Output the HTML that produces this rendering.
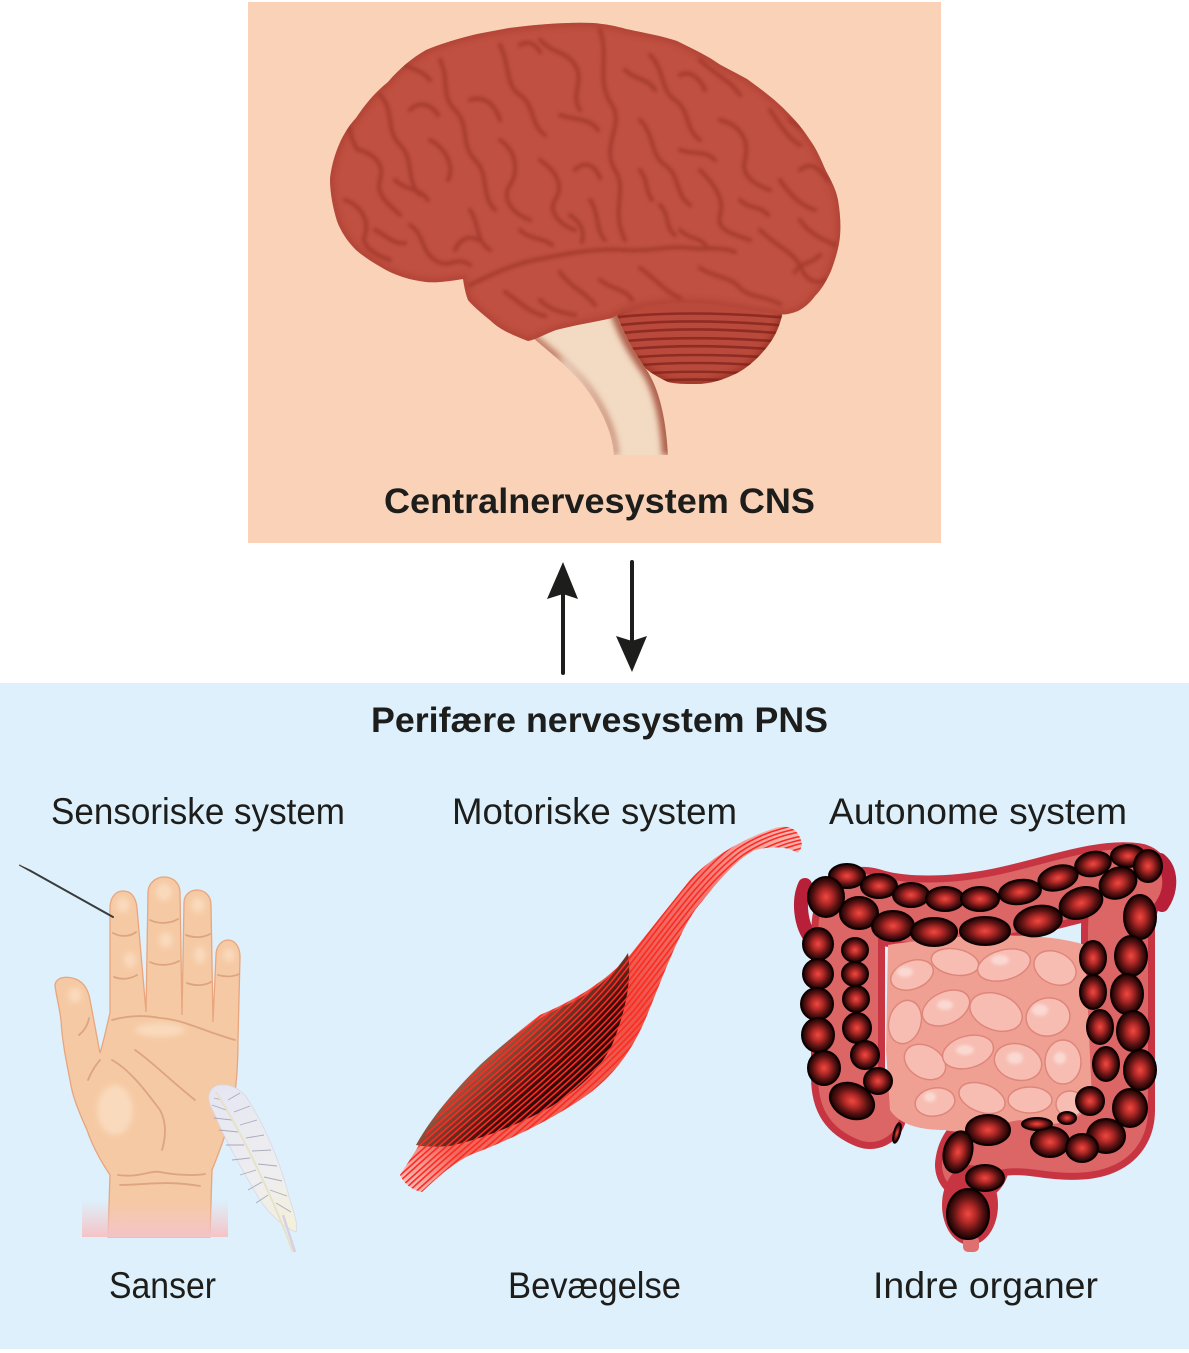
<!DOCTYPE html>
<html><head><meta charset="utf-8"><style>
html,body{margin:0;padding:0;background:#fff;}
svg{display:block;}
text{font-family:"Liberation Sans",Arial,sans-serif;fill:#1d1d1b;}
</style></head><body>
<svg width="1189" height="1353" viewBox="0 0 1189 1353" xmlns="http://www.w3.org/2000/svg">
<defs>
  <filter id="b1" x="-20%" y="-20%" width="140%" height="140%"><feGaussianBlur stdDeviation="1.5"/></filter>
  <filter id="b3" x="-20%" y="-20%" width="140%" height="140%"><feGaussianBlur stdDeviation="3"/></filter>
  <filter id="b5" x="-30%" y="-30%" width="160%" height="160%"><feGaussianBlur stdDeviation="5"/></filter>
  <path id="cerebrum" d="M330,179 C332,160 340,135 356,118 C368,100 378,90 388,82 C400,68 412,58 426,50 C440,44 460,38 477,34 L509,28 C540,24 570,22 593,23 C605,24 616,26 626,29 C645,33 662,36 677,41 C695,50 708,56 719,64 C730,70 740,75 747,79 C765,92 778,102 789,114 C800,125 806,134 812,143 C818,152 822,162 826,171 C832,182 836,190 838,200 C840,212 841,224 840,236 C839,248 835,260 831,271 C826,282 821,290 815,296 C810,303 804,308 798,311 C790,314 785,315 780,314 C760,312 740,308 720,305 C700,302 680,302 660,304 C640,306 625,310 612,318 C595,322 575,325 556,330 C545,334 535,340 528,341 C515,336 500,330 491,321 C480,312 472,305 468,300 C465,292 464,285 463,279 C450,281 438,283 426,282 C410,280 398,276 388,271 C375,264 364,257 356,250 C348,242 341,232 337,221 C333,208 330,193 330,179 Z"/>
  <clipPath id="brainClip"><use href="#cerebrum"/></clipPath>
  <path id="stem" d="M520,326 C545,350 565,362 585,387 C600,407 612,430 614,455 L668,455 C666,420 660,392 648,372 C636,355 625,338 615,310 Z"/>
  <clipPath id="stemClip"><use href="#stem"/></clipPath>
  <path id="cbl" d="M612,321 C620,300 660,292 700,294 C740,296 772,298 784,306 C780,330 772,342 761,354 C750,366 740,372 733,375 C720,381 708,384 696,384 C685,384 676,384 668,382 C660,378 652,374 645,368 C638,362 632,356 626,350 C620,340 615,330 612,321 Z"/>
  <clipPath id="cblClip"><use href="#cbl"/></clipPath>
  <path id="muscle" d="M400,1175 C410,1160 425,1135 445,1105 C470,1075 500,1045 540,1015 C575,1000 605,982 630,955 C650,930 670,905 690,880 C712,856 745,838 775,828 C790,824 800,830 802,845 C800,852 798,853 796,852 C790,848 775,845 755,850 C735,860 715,885 695,910 C675,940 660,985 645,1020 C630,1055 610,1080 580,1100 C550,1120 510,1140 470,1155 C450,1165 435,1180 422,1192 C412,1190 404,1184 400,1175 Z"/>
  <clipPath id="muscleClip"><use href="#muscle"/></clipPath>
  <linearGradient id="musG" gradientUnits="userSpaceOnUse" x1="400" y1="1190" x2="800" y2="830">
    <stop offset="0" stop-color="#f9c9c6"/>
    <stop offset="0.12" stop-color="#ef6a5e"/>
    <stop offset="0.55" stop-color="#ec5448"/>
    <stop offset="0.8" stop-color="#f07a72"/>
    <stop offset="1" stop-color="#f7bcb8"/>
  </linearGradient>
  <linearGradient id="bellyG" gradientUnits="userSpaceOnUse" x1="480" y1="1025" x2="575" y2="1120">
    <stop offset="0" stop-color="#b88466"/>
    <stop offset="0.3" stop-color="#8a4a36"/>
    <stop offset="0.6" stop-color="#3e0c08"/>
    <stop offset="1" stop-color="#1a0202"/>
  </linearGradient>
  <path id="fib" d="M360,1232 C450,1142 560,1062 620,992 C668,932 700,882 740,852 C770,832 800,826 832,826"/>
  <radialGradient id="haus" cx="0.5" cy="0.5" r="0.5">
    <stop offset="0" stop-color="#ee4a40"/>
    <stop offset="0.35" stop-color="#b52a28"/>
    <stop offset="0.7" stop-color="#5a1212"/>
    <stop offset="1" stop-color="#180202"/>
  </radialGradient>
  <linearGradient id="pinkFade" x1="0" y1="0" x2="0" y2="1">
    <stop offset="0" stop-color="#f5c7c9" stop-opacity="0"/>
    <stop offset="1" stop-color="#f4c3c6" stop-opacity="1"/>
  </linearGradient>
  <linearGradient id="featherG" gradientUnits="userSpaceOnUse" x1="215" y1="1090" x2="295" y2="1235">
    <stop offset="0" stop-color="#e6e6f2"/>
    <stop offset="0.6" stop-color="#eeeef0"/>
    <stop offset="1" stop-color="#f4f0d8"/>
  </linearGradient>
</defs>

<!-- backgrounds -->
<rect x="0" y="0" width="1189" height="1353" fill="#ffffff"/>
<rect x="248" y="2" width="693" height="541" fill="#f9d2b7"/>
<rect x="0" y="683" width="1189" height="666" fill="#ddf0fb"/>

<!-- ================= BRAIN ================= -->
<use href="#cbl" fill="#b9493a"/>
<g clip-path="url(#cblClip)" fill="none" stroke="#8e2c24" stroke-width="2.6" stroke-linecap="round">
  <path d="M610,318 C660,312 720,312 790,318"/>
  <path d="M612,326 C660,320 720,320 790,326"/>
  <path d="M614,334 C662,328 722,328 788,334"/>
  <path d="M616,342 C664,337 722,337 786,342"/>
  <path d="M620,350 C666,345 722,345 782,350"/>
  <path d="M626,358 C668,354 722,354 776,358"/>
  <path d="M632,366 C670,362 720,362 768,366"/>
  <path d="M640,374 C672,371 716,371 756,374"/>
  <path d="M652,381 C680,379 712,379 740,381"/>
</g>
<g clip-path="url(#cblClip)"><use href="#cbl" fill="none" stroke="#7a2018" stroke-width="6" opacity="0.5" filter="url(#b3)"/></g>

<use href="#stem" fill="#f3dac2"/>
<g clip-path="url(#stemClip)">
  <path d="M520,326 C545,350 565,362 585,387 C600,407 612,430 614,455" fill="none" stroke="#c5846a" stroke-width="10" filter="url(#b3)"/>
  <path d="M668,455 C666,420 660,392 648,372 C636,355 625,338 615,310" fill="none" stroke="#b06450" stroke-width="12" filter="url(#b3)"/>
  <path d="M560,360 C585,385 600,420 610,455" fill="none" stroke="#f8e8d8" stroke-width="12" opacity="0.8" filter="url(#b5)"/>
</g>

<use href="#cerebrum" fill="#c05041"/>
<g clip-path="url(#brainClip)">
  <use href="#cerebrum" fill="none" stroke="#a53b2e" stroke-width="8" opacity="0.5" filter="url(#b3)"/>
  <g fill="none" stroke="#a0372b" stroke-width="4" stroke-linecap="round" opacity="0.8" filter="url(#b1)">
    <path d="M470,285 C500,270 520,262 545,258 C575,252 600,248 625,250 C650,252 670,245 690,248 C705,250 720,246 735,252"/>
    <path d="M600,30 C610,60 595,80 612,105 C625,125 600,145 615,170 C628,190 610,210 625,240"/>
    <path d="M380,95 C395,110 385,130 400,145 C415,160 405,180 420,195"/>
    <path d="M440,60 C450,80 440,95 455,110 C470,125 460,145 475,160 C490,175 480,195 495,210"/>
    <path d="M360,150 C375,155 385,165 380,180 C375,195 390,205 400,215"/>
    <path d="M345,200 C360,205 370,220 365,235 C360,245 375,255 390,260"/>
    <path d="M410,225 C425,235 420,250 435,260 C450,270 455,255 470,265"/>
    <path d="M500,45 C510,65 505,85 520,95 C535,105 530,125 545,135"/>
    <path d="M540,40 C555,55 565,50 575,65 C585,80 570,95 580,110"/>
    <path d="M500,140 C515,150 520,170 510,185 C500,200 515,215 530,220"/>
    <path d="M540,160 C555,170 565,185 555,200 C548,212 560,225 575,230"/>
    <path d="M430,140 C445,148 455,165 448,180"/>
    <path d="M650,55 C665,70 660,90 675,100 C690,110 685,130 700,140"/>
    <path d="M700,60 C715,75 730,80 740,95"/>
    <path d="M640,120 C655,135 650,155 665,165 C680,175 675,195 690,205"/>
    <path d="M720,120 C740,125 750,140 745,160 C740,175 755,185 770,190"/>
    <path d="M770,110 C780,125 790,140 800,145"/>
    <path d="M700,170 C715,185 725,200 720,215 C715,230 735,235 750,240"/>
    <path d="M780,180 C790,195 800,205 815,210"/>
    <path d="M760,230 C775,245 790,250 800,265 C805,280 815,285 825,280"/>
    <path d="M700,268 C715,278 730,276 740,288 C750,298 765,296 780,304"/>
    <path d="M640,268 C655,278 665,292 680,298"/>
    <path d="M560,272 C570,287 585,292 595,305"/>
    <path d="M505,292 C520,302 528,312 545,316"/>
    <path d="M590,200 C600,215 595,230 605,240"/>
    <path d="M660,205 C670,215 665,228 675,235"/>
    <path d="M800,220 C810,235 825,240 835,245"/>
    <path d="M470,210 C480,225 475,240 490,250"/>
    <path d="M395,60 C410,70 420,68 430,80"/>
    <path d="M470,100 C485,95 495,105 500,120"/>
    <path d="M560,115 C575,120 590,118 598,130"/>
    <path d="M345,120 C352,130 350,140 358,150"/>
    <path d="M740,40 C748,55 760,58 770,70"/>
    <path d="M800,170 C812,160 820,170 828,180"/>
    <path d="M375,230 C385,235 395,245 405,243"/>
    <path d="M540,300 C550,310 560,312 575,315"/>
    <path d="M680,150 C695,155 705,150 715,160"/>
    <path d="M410,110 C420,100 432,105 438,115"/>
    <path d="M395,180 C405,190 420,188 428,200"/>
    <path d="M455,250 C460,238 470,235 478,240"/>
    <path d="M520,230 C530,240 545,238 552,245"/>
    <path d="M575,170 C585,160 595,165 600,178"/>
    <path d="M625,70 C635,80 648,78 655,90"/>
    <path d="M680,75 C690,70 700,78 705,90"/>
    <path d="M740,200 C750,210 760,205 768,215"/>
    <path d="M790,120 C800,130 812,128 818,140"/>
    <path d="M820,255 C810,265 800,262 795,272"/>
    <path d="M600,280 C612,290 625,288 632,300"/>
    <path d="M680,230 C690,240 700,236 708,248"/>
    <path d="M520,45 C528,40 536,44 540,52"/>
    <path d="M570,215 C580,222 585,230 582,242"/>
    <path d="M640,170 C648,180 645,190 652,200"/>
  </g>
</g>

<text x="384" y="513" font-size="35" font-weight="bold" textLength="431" lengthAdjust="spacingAndGlyphs">Centralnervesystem CNS</text>

<!-- ================= ARROWS ================= -->
<line x1="563" y1="673" x2="563" y2="592" stroke="#1d1d1b" stroke-width="4" stroke-linecap="round"/>
<polygon points="563,562 578,599 563,594 547,599" fill="#1d1d1b"/>
<line x1="632" y1="562" x2="632" y2="642" stroke="#1d1d1b" stroke-width="4" stroke-linecap="round"/>
<polygon points="632,672 647,636 632,641 616,636" fill="#1d1d1b"/>

<text x="371" y="732" font-size="35" font-weight="bold" textLength="457" lengthAdjust="spacingAndGlyphs">Perifære nervesystem PNS</text>
<text x="51" y="824" font-size="37" textLength="294" lengthAdjust="spacingAndGlyphs">Sensoriske system</text>
<text x="452" y="824" font-size="37" textLength="285" lengthAdjust="spacingAndGlyphs">Motoriske system</text>
<text x="829" y="824" font-size="37" textLength="298" lengthAdjust="spacingAndGlyphs">Autonome system</text>
<text x="109" y="1298" font-size="37" textLength="107" lengthAdjust="spacingAndGlyphs">Sanser</text>
<text x="508" y="1298" font-size="37" textLength="173" lengthAdjust="spacingAndGlyphs">Bevægelse</text>
<text x="873" y="1298" font-size="37" textLength="225" lengthAdjust="spacingAndGlyphs">Indre organer</text>

<!-- ================= HAND ================= -->
<path d="M55,985 C56,978 64,976 72,978 C82,980 88,988 90,1000 L100,1053 C104,1040 107,1025 110,1013 L110,908 C110,897 116,891 123,891 C131,891 136,897 137,908 L146,1012 L148,893 C148,883 156,877 164,877 C173,877 180,883 180,893 L182,1015 L184,903 C184,895 190,890 197,890 C205,890 211,896 211,905 L213,1022 L216,955 C216,946 222,940 228,940 C235,940 240,947 240,957 L238,1040 C238,1060 237,1080 234,1100 C228,1130 220,1150 212,1170 L210,1237 L108,1237 L110,1175 C100,1160 92,1145 87,1130 C78,1110 72,1095 70,1080 C66,1060 62,1040 61,1020 C59,1005 56,995 55,985 Z" fill="#f5c9a3" stroke="#e8a57e" stroke-width="1.3"/>
<g fill="#fadcc0" opacity="0.9" filter="url(#b3)">
  <ellipse cx="123" cy="905" rx="7" ry="8"/>
  <ellipse cx="164" cy="892" rx="8" ry="9"/>
  <ellipse cx="198" cy="905" rx="7" ry="8"/>
  <ellipse cx="229" cy="955" rx="6" ry="7"/>
  <ellipse cx="166" cy="940" rx="7" ry="8"/>
  <ellipse cx="200" cy="955" rx="6" ry="9"/>
  <ellipse cx="130" cy="960" rx="6" ry="8"/>
  <ellipse cx="75" cy="995" rx="7" ry="8"/>
  <ellipse cx="115" cy="1110" rx="18" ry="25"/>
  <ellipse cx="160" cy="1030" rx="25" ry="7"/>
</g>
<g fill="none" stroke="#d99e7a" stroke-width="1.8" stroke-linecap="round" opacity="0.85">
  <path d="M113,933 C120,937 130,937 136,932"/>
  <path d="M150,920 C158,924 170,924 178,919"/>
  <path d="M186,935 C193,938 203,938 210,934"/>
  <path d="M114,977 C122,980 130,979 137,975"/>
  <path d="M150,962 C158,966 170,966 179,961"/>
  <path d="M187,983 C194,986 204,986 211,982"/>
  <path d="M218,975 C225,977 233,977 239,974"/>
  <path d="M79,1035 C85,1030 88,1024 89,1018"/>
  <path d="M112,1020 C130,1015 145,1015 160,1018 C185,1020 200,1030 235,1040"/>
  <path d="M135,1050 C150,1060 170,1080 195,1100"/>
  <path d="M112,1060 C130,1070 145,1090 160,1110 C168,1125 165,1140 162,1150"/>
  <path d="M118,1175 C140,1178 150,1170 160,1172 C175,1175 195,1176 205,1174"/>
  <path d="M120,1185 C145,1185 165,1180 200,1186"/>
  <path d="M88,1080 C92,1070 96,1065 100,1060"/>
</g>
<rect x="82" y="1200" width="146" height="37" fill="url(#pinkFade)"/>
<line x1="20" y1="865" x2="113" y2="917" stroke="#3b3b3b" stroke-width="2" stroke-linecap="round"/>
<path d="M19,864 L30,869" stroke="#eeeeee" stroke-width="0.8"/>
<path d="M210,1092 C214,1082 232,1082 245,1095 C262,1120 280,1160 290,1200 C295,1215 298,1225 296,1232 C285,1228 270,1215 260,1200 C245,1175 225,1140 215,1115 C208,1102 208,1097 210,1092 Z" fill="url(#featherG)" stroke="#d8d8e6" stroke-width="0.8"/>
<g fill="none" stroke="#9a9aae" stroke-width="0.9" opacity="0.8">
  <path d="M222,1100 L214,1098"/><path d="M226,1110 L212,1105"/><path d="M232,1120 L214,1118"/>
  <path d="M238,1132 L219,1130"/><path d="M244,1145 L226,1145"/><path d="M250,1158 L232,1160"/>
  <path d="M256,1170 L240,1175"/><path d="M262,1182 L248,1190"/><path d="M268,1195 L256,1203"/>
  <path d="M228,1100 L240,1093"/><path d="M234,1112 L250,1106"/><path d="M240,1125 L257,1120"/>
  <path d="M246,1138 L264,1135"/><path d="M252,1151 L271,1150"/><path d="M258,1164 L277,1166"/>
  <path d="M264,1177 L282,1181"/><path d="M270,1190 L287,1196"/><path d="M276,1203 L291,1212"/>
</g>
<path d="M216,1092 C240,1130 270,1190 293,1252" fill="none" stroke="#e6e2c8" stroke-width="2"/>
<path d="M283,1215 L295,1252" stroke="#d8d0e0" stroke-width="2.5"/>

<!-- ================= MUSCLE ================= -->
<use href="#muscle" fill="url(#musG)"/>
<path d="M416,1145 C430,1120 450,1095 480,1065 C505,1042 530,1022 560,1008 C590,995 612,978 628,953 C632,980 626,1010 612,1045 C598,1072 580,1088 552,1106 C520,1124 485,1138 450,1146 C435,1147 425,1147 416,1145 Z" fill="url(#bellyG)"/>
<g clip-path="url(#muscleClip)" fill="none" stroke="#ff2a22" stroke-width="1.6">
  <use href="#fib" transform="translate(-54,-60)"/><use href="#fib" transform="translate(-51,-57)"/>
  <use href="#fib" transform="translate(-48,-54)"/><use href="#fib" transform="translate(-45,-51)"/>
  <use href="#fib" transform="translate(-42,-48)"/><use href="#fib" transform="translate(-39,-45)"/>
  <use href="#fib" transform="translate(-36,-42)"/><use href="#fib" transform="translate(-33,-38)"/>
  <use href="#fib" transform="translate(-30,-34)"/><use href="#fib" transform="translate(-27,-30)"/>
  <use href="#fib" transform="translate(-24,-27)"/><use href="#fib" transform="translate(-21,-24)"/>
  <use href="#fib" transform="translate(-18,-20)"/><use href="#fib" transform="translate(-15,-17)"/>
  <use href="#fib" transform="translate(-12,-13)"/><use href="#fib" transform="translate(-9,-10)"/>
  <use href="#fib" transform="translate(-6,-7)"/><use href="#fib" transform="translate(-3,-3)"/>
  <use href="#fib"/><use href="#fib" transform="translate(3,3)"/>
  <use href="#fib" transform="translate(6,7)"/><use href="#fib" transform="translate(9,10)"/>
  <use href="#fib" transform="translate(12,13)"/><use href="#fib" transform="translate(15,17)"/>
  <use href="#fib" transform="translate(18,20)"/><use href="#fib" transform="translate(21,24)"/>
  <use href="#fib" transform="translate(24,27)"/><use href="#fib" transform="translate(27,30)"/>
  <use href="#fib" transform="translate(30,34)"/><use href="#fib" transform="translate(33,38)"/>
  <use href="#fib" transform="translate(36,42)"/><use href="#fib" transform="translate(39,45)"/>
  <use href="#fib" transform="translate(42,48)"/><use href="#fib" transform="translate(45,51)"/>
  <use href="#fib" transform="translate(48,54)"/><use href="#fib" transform="translate(51,57)"/>
  <use href="#fib" transform="translate(54,60)"/><use href="#fib" transform="translate(57,63)"/>
</g>
<g clip-path="url(#muscleClip)" fill="none" stroke="#ffffff" stroke-width="0.8" opacity="0.45">
  <use href="#fib" transform="translate(-46,-52)"/><use href="#fib" transform="translate(-37,-42)"/>
  <use href="#fib" transform="translate(37,42)"/><use href="#fib" transform="translate(50,56)"/>
</g>

<!-- ================= INTESTINES ================= -->
<path d="M870,1112 C852,1105 848,1095 848,1075 L848,940 C848,912 852,900 870,905 C900,915 950,915 1000,905 C1050,895 1100,875 1135,880 C1125,890 1118,905 1118,930 L1118,1110 C1118,1140 1090,1148 1040,1140 C1000,1135 975,1140 972,1165" fill="none" stroke="#c83542" stroke-width="74" stroke-linejoin="round" stroke-linecap="round"/>
<path d="M870,1112 C852,1105 848,1095 848,1075 L848,940 C848,912 852,900 870,905 C900,915 950,915 1000,905 C1050,895 1100,875 1135,880 C1125,890 1118,905 1118,930 L1118,1110 C1118,1140 1090,1148 1040,1140 C1000,1135 975,1140 972,1165" fill="none" stroke="#dc6566" stroke-width="60" stroke-linejoin="round" stroke-linecap="round"/>
<path d="M1160,860 C1172,870 1172,890 1162,905" fill="none" stroke="#b8203a" stroke-width="14" stroke-linecap="round"/>
<path d="M805,885 C798,900 800,925 812,940" fill="none" stroke="#b8203a" stroke-width="14" stroke-linecap="round"/>
<!-- rectum backing -->
<ellipse cx="970" cy="1205" rx="28" ry="40" fill="#c83542"/>
<rect x="963" y="1236" width="16" height="16" rx="5" fill="#e07070"/>

<!-- small intestine -->
<path d="M888,945 C950,935 1040,930 1085,945 L1092,1100 C1080,1125 1050,1128 1020,1120 C990,1125 960,1135 945,1130 C920,1130 900,1125 890,1110 L886,1050 Z" fill="#f0a093"/>
<g fill="#f7bdb2" stroke="#df867b" stroke-width="1.5">
  <ellipse cx="912" cy="975" rx="22" ry="14" transform="rotate(-20 912 975)"/>
  <ellipse cx="955" cy="962" rx="24" ry="13" transform="rotate(10 955 962)"/>
  <ellipse cx="1004" cy="965" rx="27" ry="15" transform="rotate(-15 1004 965)"/>
  <ellipse cx="1055" cy="968" rx="22" ry="16" transform="rotate(25 1055 968)"/>
  <ellipse cx="905" cy="1022" rx="16" ry="22" transform="rotate(15 905 1022)"/>
  <ellipse cx="946" cy="1008" rx="25" ry="16" transform="rotate(-25 946 1008)"/>
  <ellipse cx="996" cy="1012" rx="27" ry="18" transform="rotate(20 996 1012)"/>
  <ellipse cx="1048" cy="1017" rx="22" ry="19" transform="rotate(-10 1048 1017)"/>
  <ellipse cx="925" cy="1062" rx="22" ry="16" transform="rotate(30 925 1062)"/>
  <ellipse cx="968" cy="1052" rx="26" ry="16" transform="rotate(-15 968 1052)"/>
  <ellipse cx="1018" cy="1062" rx="24" ry="18" transform="rotate(15 1018 1062)"/>
  <ellipse cx="1063" cy="1062" rx="18" ry="22"/>
  <ellipse cx="935" cy="1102" rx="20" ry="14" transform="rotate(-10 935 1102)"/>
  <ellipse cx="982" cy="1098" rx="24" ry="14" transform="rotate(20 982 1098)"/>
  <ellipse cx="1030" cy="1100" rx="22" ry="13"/>
  <ellipse cx="1070" cy="1104" rx="14" ry="13"/>
</g>
<g fill="#fbe0da" opacity="0.8" filter="url(#b1)">
  <ellipse cx="905" cy="972" rx="8" ry="5"/><ellipse cx="1000" cy="960" rx="9" ry="5"/>
  <ellipse cx="945" cy="1005" rx="8" ry="5"/><ellipse cx="1040" cy="1010" rx="8" ry="6"/>
  <ellipse cx="965" cy="1050" rx="9" ry="5"/><ellipse cx="1015" cy="1058" rx="8" ry="6"/>
  <ellipse cx="930" cy="1097" rx="6" ry="5"/><ellipse cx="1060" cy="1058" rx="6" ry="6"/>
</g>

<!-- haustra -->
<g fill="url(#haus)" stroke="#0d0000" stroke-width="2">
  <ellipse cx="847" cy="876" rx="18" ry="12"/>
  <ellipse cx="879" cy="886" rx="18" ry="12"/>
  <ellipse cx="911" cy="895" rx="18" ry="12"/>
  <ellipse cx="945" cy="899" rx="19" ry="12"/>
  <ellipse cx="980" cy="899" rx="19" ry="12"/>
  <ellipse cx="1020" cy="892" rx="21" ry="12" transform="rotate(-8 1020 892)"/>
  <ellipse cx="1058" cy="878" rx="20" ry="12" transform="rotate(-15 1058 878)"/>
  <ellipse cx="1093" cy="864" rx="18" ry="12" transform="rotate(-12 1093 864)"/>
  <ellipse cx="1128" cy="856" rx="17" ry="11"/>
  <ellipse cx="826" cy="897" rx="18" ry="20"/>
  <ellipse cx="859" cy="913" rx="19" ry="16"/>
  <ellipse cx="893" cy="926" rx="21" ry="15"/>
  <ellipse cx="934" cy="932" rx="23" ry="14"/>
  <ellipse cx="985" cy="931" rx="25" ry="14"/>
  <ellipse cx="1038" cy="921" rx="24" ry="15" transform="rotate(-10 1038 921)"/>
  <ellipse cx="1081" cy="903" rx="22" ry="15" transform="rotate(-20 1081 903)"/>
  <ellipse cx="1118" cy="883" rx="19" ry="15" transform="rotate(-25 1118 883)"/>
  <ellipse cx="1148" cy="866" rx="14" ry="16"/>
  <ellipse cx="818" cy="944" rx="15" ry="16"/>
  <ellipse cx="818" cy="974" rx="15" ry="15"/>
  <ellipse cx="817" cy="1004" rx="16" ry="16"/>
  <ellipse cx="818" cy="1035" rx="16" ry="17"/>
  <ellipse cx="824" cy="1068" rx="16" ry="17"/>
  <ellipse cx="852" cy="1101" rx="23" ry="17" transform="rotate(25 852 1101)"/>
  <ellipse cx="855" cy="950" rx="13" ry="12"/>
  <ellipse cx="855" cy="974" rx="13" ry="12"/>
  <ellipse cx="856" cy="999" rx="13" ry="13"/>
  <ellipse cx="857" cy="1028" rx="14" ry="15"/>
  <ellipse cx="865" cy="1055" rx="14" ry="14"/>
  <ellipse cx="878" cy="1081" rx="14" ry="13"/>
  <ellipse cx="1140" cy="917" rx="16" ry="22"/>
  <ellipse cx="1131" cy="956" rx="16" ry="20"/>
  <ellipse cx="1127" cy="994" rx="16" ry="20"/>
  <ellipse cx="1133" cy="1031" rx="16" ry="20"/>
  <ellipse cx="1140" cy="1070" rx="16" ry="20"/>
  <ellipse cx="1130" cy="1108" rx="17" ry="19"/>
  <ellipse cx="1106" cy="1136" rx="19" ry="17"/>
  <ellipse cx="1093" cy="958" rx="13" ry="17"/>
  <ellipse cx="1093" cy="992" rx="13" ry="17"/>
  <ellipse cx="1100" cy="1027" rx="13" ry="17"/>
  <ellipse cx="1106" cy="1064" rx="13" ry="17"/>
  <ellipse cx="1090" cy="1101" rx="14" ry="14"/>
  <ellipse cx="1050" cy="1142" rx="19" ry="15"/>
  <ellipse cx="1082" cy="1148" rx="16" ry="14"/>
  <ellipse cx="1037" cy="1124" rx="15" ry="6"/>
  <ellipse cx="1067" cy="1118" rx="9" ry="6"/>
  <ellipse cx="988" cy="1130" rx="22" ry="15"/>
  <ellipse cx="958" cy="1152" rx="14" ry="21" transform="rotate(15 958 1152)"/>
  <ellipse cx="985" cy="1178" rx="19" ry="13"/>
  <ellipse cx="968" cy="1214" rx="21" ry="25"/>
  <ellipse cx="897" cy="1133" rx="3" ry="10" transform="rotate(15 897 1133)"/>
</g>
</svg>
</body></html>
